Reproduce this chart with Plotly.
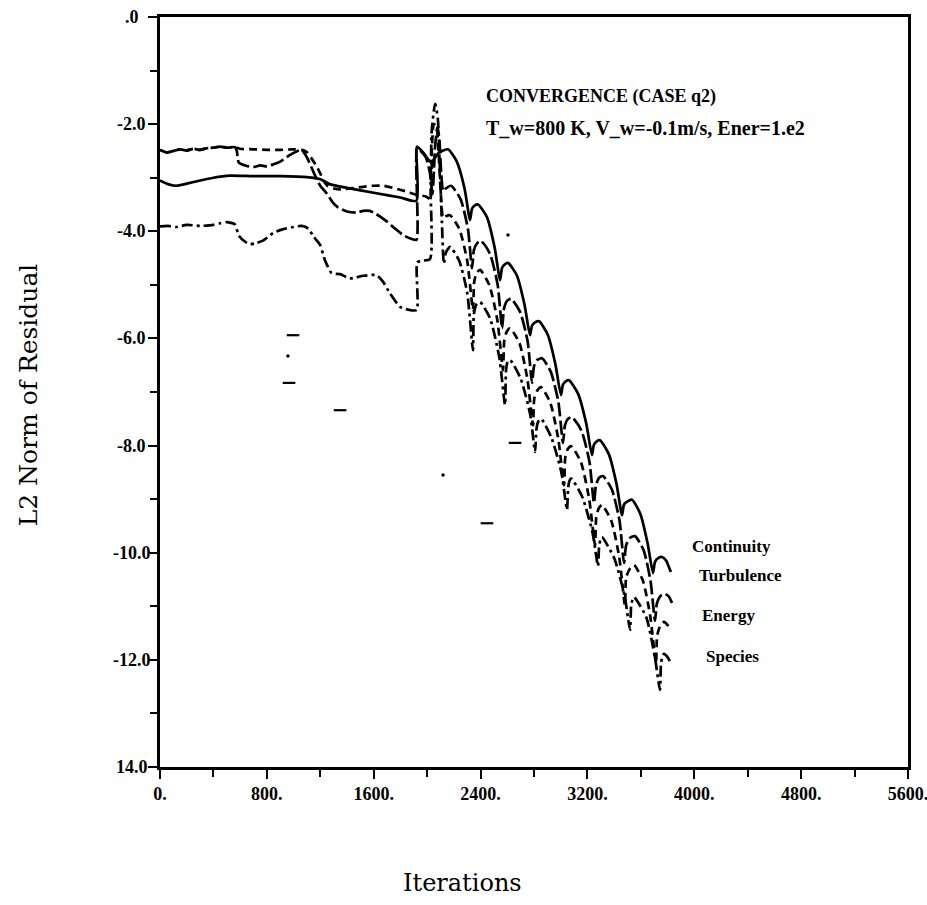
import plotly.graph_objects as go

# ---------------- data (iterations, log10 L2 residual) ----------------
cont_x = [0, 60, 120, 250, 400, 520, 700, 900, 1100, 1200, 1270, 1400, 1600, 1800, 1920,
          1924, 1980, 2030, 2060, 2095, 2156,
          2222, 2280, 2321, 2336, 2355, 2381,
          2447, 2505, 2546, 2561, 2580, 2605,
          2671, 2729, 2770, 2785, 2808, 2838,
          2903, 2960, 3002, 3017, 3038, 3062,
          3131, 3192, 3234, 3249, 3270, 3294,
          3360, 3418, 3459, 3474, 3500, 3534,
          3597, 3650, 3691, 3706, 3730, 3758,
          3790, 3815, 3825]
cont_y = [-3.05, -3.12, -3.15, -3.08, -3.00, -2.96, -2.97, -2.97, -2.99, -3.03, -3.12, -3.19, -3.28, -3.37, -3.43,
          -2.42, -2.56, -2.72, -2.62, -2.52, -2.47,
          -2.70, -3.20, -3.79, -3.58, -3.52, -3.50,
          -3.73, -4.30, -4.91, -4.68, -4.62, -4.59,
          -4.82, -5.37, -5.94, -5.76, -5.70, -5.68,
          -5.93, -6.48, -7.06, -6.86, -6.80, -6.78,
          -7.04, -7.60, -8.18, -7.98, -7.92, -7.90,
          -8.16, -8.72, -9.30, -9.10, -9.04, -9.01,
          -9.28, -9.82, -10.38, -10.17, -10.10, -10.08,
          -10.15, -10.30, -10.36]

turb_x = [0, 50, 100, 150, 200, 250, 300, 350, 400, 450, 500, 560, 575, 590, 650, 700, 750, 800, 850, 900,
          970, 1030, 1061, 1100, 1150, 1200, 1250, 1290, 1330, 1400, 1470, 1520, 1570, 1620, 1700, 1760,
          1820, 1880, 1920,
          1926, 1990, 2020, 2040, 2060, 2078, 2092, 2105, 2120, 2140, 2179,
          2250, 2305, 2336, 2350, 2375, 2403,
          2470, 2528, 2561, 2575, 2598, 2628,
          2695, 2752, 2785, 2800, 2825, 2860,
          2925, 2982, 3017, 3032, 3055, 3085,
          3155, 3215, 3249, 3264, 3288, 3317,
          3383, 3440, 3474, 3490, 3520, 3556,
          3620, 3672, 3706, 3720, 3750, 3781,
          3810, 3833]
turb_y = [-2.48, -2.53, -2.50, -2.47, -2.49, -2.46, -2.48, -2.45, -2.44, -2.42, -2.44, -2.43, -2.50, -2.72,
          -2.78, -2.80, -2.77, -2.79, -2.75, -2.70, -2.58, -2.50, -2.48, -2.62, -2.90, -3.15, -3.30, -3.45,
          -3.55, -3.63, -3.65, -3.62, -3.62, -3.68, -3.82, -3.95, -4.07, -4.14, -4.16,
          -2.45, -2.62, -2.90, -3.30, -2.40, -2.05, -2.30, -2.90, -3.25, -3.20, -3.15,
          -3.40, -3.95, -4.69, -4.35, -4.22, -4.18,
          -4.42, -5.00, -5.81, -5.45, -5.30, -5.26,
          -5.50, -6.05, -6.83, -6.52, -6.40, -6.37,
          -6.62, -7.18, -7.95, -7.62, -7.50, -7.47,
          -7.72, -8.30, -9.07, -8.74, -8.60, -8.57,
          -8.82, -9.40, -10.19, -9.86, -9.72, -9.69,
          -9.95, -10.52, -11.27, -10.95, -10.80, -10.77,
          -10.82, -10.94]

ener_x = [0, 50, 100, 150, 200, 250, 300, 350, 400, 450, 500, 560, 600, 700, 800, 900, 1000, 1061,
          1098, 1173, 1248, 1300, 1360, 1423, 1522, 1600, 1672, 1760, 1847, 1922,
          1990, 2025, 2035, 2050, 2070, 2085, 2100, 2120, 2140, 2171,
          2240, 2300, 2343, 2352, 2370, 2396,
          2465, 2525, 2568, 2577, 2595, 2620,
          2690, 2750, 2793, 2802, 2825, 2853,
          2922, 2982, 3025, 3034, 3052, 3077,
          3150, 3212, 3257, 3266, 3285, 3309,
          3378, 3438, 3481, 3490, 3520, 3549,
          3615, 3670, 3713, 3722, 3745, 3773,
          3800, 3822]
ener_y = [-2.48, -2.53, -2.50, -2.47, -2.49, -2.46, -2.48, -2.45, -2.44, -2.42, -2.44, -2.43, -2.46,
          -2.47, -2.48, -2.48, -2.47, -2.48,
          -2.52, -2.79, -3.14, -3.20, -3.22, -3.20, -3.17, -3.15, -3.15, -3.20, -3.26, -3.32,
          -3.35, -3.40, -2.50, -2.00, -2.05, -2.50, -3.20, -3.75, -3.72, -3.70,
          -3.95, -4.55, -5.47, -4.95, -4.78, -4.72,
          -5.00, -5.65, -6.59, -6.05, -5.88, -5.81,
          -6.08, -6.75, -7.62, -7.12, -6.97, -6.91,
          -7.20, -7.88, -8.74, -8.22, -8.07, -8.01,
          -8.30, -8.98, -9.86, -9.34, -9.17, -9.11,
          -9.40, -10.08, -10.98, -10.46, -10.29, -10.23,
          -10.52, -11.18, -12.06, -11.55, -11.36, -11.29,
          -11.35, -11.45]

spec_x = [0, 60, 120, 200, 300, 400, 450, 500, 560, 590, 640, 674, 720, 774, 848, 923, 1000, 1061,
          1110, 1150, 1198, 1235, 1285, 1348, 1423, 1522, 1622, 1672, 1722, 1797, 1870, 1922,
          1926, 1960, 2021, 2026, 2035, 2060, 2080, 2095, 2110, 2125, 2140, 2171,
          2240, 2300, 2343, 2350, 2370, 2396,
          2470, 2540, 2583, 2590, 2600, 2620,
          2700, 2770, 2808, 2818, 2832, 2853,
          2930, 3005, 3047, 3055, 3065, 3077,
          3160, 3238, 3279, 3287, 3297, 3309,
          3400, 3478, 3519, 3527, 3537, 3549,
          3640, 3705, 3743, 3750, 3760, 3773,
          3800, 3822]
spec_y = [-3.91, -3.90, -3.92, -3.88, -3.90, -3.88, -3.85, -3.83, -3.87, -4.08, -4.20, -4.24, -4.22,
          -4.17, -4.03, -3.96, -3.92, -3.90,
          -3.95, -4.10, -4.25, -4.54, -4.78, -4.80, -4.88, -4.83, -4.82, -4.95, -5.16, -5.41, -5.47, -5.47,
          -4.58, -4.55, -4.52, -3.20, -2.10, -1.62, -1.90, -2.80, -3.80, -4.60, -4.40, -4.29,
          -4.55, -5.15, -6.22, -5.55, -5.36, -5.32,
          -5.62, -6.35, -7.24, -6.62, -6.45, -6.40,
          -6.75, -7.40, -8.12, -7.70, -7.55, -7.50,
          -7.85, -8.50, -9.20, -8.80, -8.66, -8.61,
          -8.95, -9.62, -10.25, -9.90, -9.76, -9.71,
          -10.10, -10.80, -11.44, -11.00, -10.88, -10.83,
          -11.20, -11.95, -12.56, -12.10, -11.94, -11.89,
          -11.95, -12.05]

# stray specks visible on the scanned original
speck_x = [996, 966, 1348, 2658, 2448]
speck_y = [-5.94, -6.83, -7.34, -7.95, -9.45]
dot_x = [2605, 2119, 958]
dot_y = [-4.07, -8.55, -6.33]

series_names = ["Continuity", "Turbulence", "Energy", "Species"]

x_tickvals = [0, 800, 1600, 2400, 3200, 4000, 4800, 5600]
x_ticktext = ["0.", "800.", "1600.", "2400.", "3200.", "4000.", "4800.", "5600."]
y_tickvals = [0, -2, -4, -6, -8, -10, -12, -14]
y_ticktext = [".0", "-2.0", "-4.0", "-6.0", "-8.0", "-10.0", "-12.0", "14.0"]

# ---------------- figure ----------------
fig = go.Figure()
dashes = ["solid", "14px,4px", "8px,5px", "11px,4px,3px,4px"]
for name, xs, ys, d in zip(series_names,
                           [cont_x, turb_x, ener_x, spec_x],
                           [cont_y, turb_y, ener_y, spec_y], dashes):
    fig.add_trace(go.Scatter(x=xs, y=ys, mode="lines", name=name,
                             line=dict(color="black", width=2.7, dash=d, shape="spline", smoothing=0.6),
                             showlegend=False, hoverinfo="skip"))
fig.add_trace(go.Scatter(x=speck_x, y=speck_y, mode="markers", showlegend=False, hoverinfo="skip",
                         marker=dict(symbol="line-ew", size=9, line=dict(color="black", width=2.2))))
fig.add_trace(go.Scatter(x=dot_x, y=dot_y, mode="markers", showlegend=False, hoverinfo="skip",
                         marker=dict(symbol="circle", size=3.5, color="black")))

tick_font = dict(family="Liberation Serif", size=18, color="black")
fig.update_xaxes(range=[0, 5600], tickvals=x_tickvals, ticktext=["<b>" + t + "</b>" for t in x_ticktext],
                 ticks="outside", ticklen=9, tickwidth=2, tickcolor="black", ticklabeloverflow="allow",
                 showline=True, linecolor="black", linewidth=2.5, mirror=True,
                 showgrid=False, zeroline=False, tickfont=tick_font, automargin=False,
                 minor=dict(tickmode="linear", tick0=0, dtick=400, ticks="outside",
                            ticklen=7, tickwidth=2, tickcolor="black"))
fig.update_yaxes(range=[-14, 0], tickvals=y_tickvals, ticktext=[""] * len(y_tickvals),
                 ticks="outside", ticklen=9, tickwidth=2, tickcolor="black",
                 showline=True, linecolor="black", linewidth=2.5, mirror=True,
                 showgrid=False, zeroline=False, tickfont=tick_font, automargin=False,
                 minor=dict(tickmode="linear", tick0=0, dtick=1, ticks="outside",
                            ticklen=7, tickwidth=2, tickcolor="black"))

annotations = []
# y tick labels, centred in the gutter as on the original
for v, t in zip(y_tickvals, y_ticktext):
    annotations.append(dict(x=-0.038, y=v, xref="paper", yref="y", text="<b>" + t + "</b>",
                            showarrow=False, xanchor="center", yanchor="middle", font=tick_font))
annotations += [
    dict(x=2426, y=-1.49, xref="x", yref="y", text="<b>CONVERGENCE (CASE q2)</b>",
         showarrow=False, xanchor="left", yanchor="middle",
         font=dict(family="Liberation Serif", size=18, color="black")),
    dict(x=2426, y=-2.07, xref="x", yref="y", text="<b>T_w=800 K, V_w=-0.1m/s, Ener=1.e2</b>",
         showarrow=False, xanchor="left", yanchor="middle",
         font=dict(family="Liberation Serif", size=20, color="black")),
]
label_pos = [(3968, -9.89), (4020, -10.43), (4043, -11.18), (4073, -11.93)]
for name, (lx, ly) in zip(series_names, label_pos):
    annotations.append(dict(x=lx, y=ly, xref="x", yref="y", text="<b>" + name + "</b>",
                            showarrow=False, xanchor="left", yanchor="middle",
                            font=dict(family="Liberation Serif", size=17, color="black")))
annotations.append(dict(x=0.404, y=-0.155, xref="paper", yref="paper", text="Iterations",
                        showarrow=False, xanchor="center", yanchor="middle",
                        font=dict(family="DejaVu Serif", size=24, color="black")))
annotations.append(dict(x=-0.176, y=0.496, xref="paper", yref="paper", text="L2 Norm of Residual",
                        showarrow=False, xanchor="center", yanchor="middle", textangle=-90,
                        font=dict(family="DejaVu Serif", size=25, color="black")))

fig.update_layout(width=927, height=905, margin=dict(l=160, r=19, t=17, b=138, autoexpand=False),
                  paper_bgcolor="white", plot_bgcolor="white", annotations=annotations)

fig.write_html("out.html")
